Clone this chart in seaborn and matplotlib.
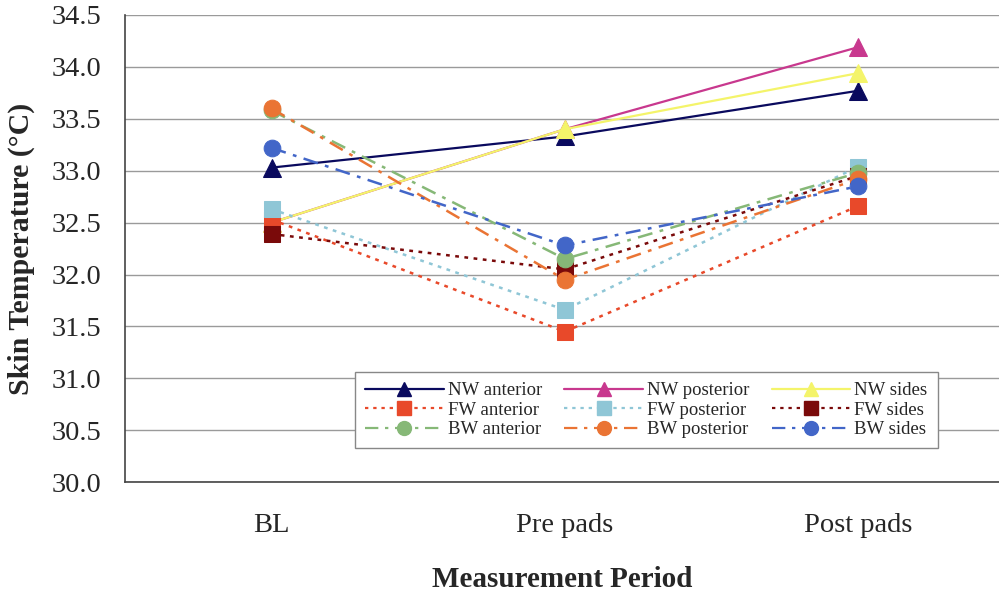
import matplotlib
matplotlib.use("Agg")
import matplotlib.pyplot as plt
import seaborn as sns
import pandas as pd
from matplotlib.lines import Line2D

periods = ["BL", "Pre pads", "Post pads"]
series_names = ["NW anterior", "NW posterior", "NW sides",
                "FW anterior", "FW posterior", "FW sides",
                "BW anterior", "BW posterior", "BW sides"]
nw_anterior = [33.03, 33.33, 33.77]
nw_posterior = [32.50, 33.40, 34.19]
nw_sides = [32.50, 33.40, 33.94]
fw_anterior = [32.53, 31.45, 32.66]
fw_posterior = [32.63, 31.66, 33.04]
fw_sides = [32.39, 32.05, 32.95]
bw_anterior = [33.58, 32.15, 32.98]
bw_posterior = [33.60, 31.95, 32.92]
bw_sides = [33.22, 32.28, 32.85]
values = [nw_anterior, nw_posterior, nw_sides, fw_anterior, fw_posterior,
          fw_sides, bw_anterior, bw_posterior, bw_sides]

colors = ["#0a0a5e", "#c8388e", "#f4f46a", "#e8492a", "#8fc6d6",
          "#7a0a0a", "#86b877", "#ea7434", "#4266c8"]
markers = ["^", "^", "^", "s", "s", "s", "o", "o", "o"]
dot = (1.5, 2.2)
dashdot = (6, 3, 1.5, 3)
styles = ["-", "-", "-", dot, dot, dot, dashdot, dashdot, dashdot]

rows = []
for name, vals in zip(series_names, values):
    for i, v in enumerate(vals):
        rows.append({"series": name, "pos": i, "temp": v})
df = pd.DataFrame(rows)

sns.set_style("white")
plt.rcParams["font.family"] = ["Liberation Serif", "DejaVu Serif"]

fig = plt.figure(figsize=(9.99, 5.99), dpi=100)
ax = fig.add_axes([0.125, 0.195, 0.875, 0.78])

for k, name in enumerate(series_names):
    sub = df[df["series"] == name]
    ls = styles[k]
    kw = {}
    if isinstance(ls, tuple):
        kw["dashes"] = False
    sns.lineplot(data=sub, x="pos", y="temp", ax=ax, color=colors[k],
                 marker=markers[k], markersize=12 if markers[k] != "^" else 13,
                 markeredgecolor=colors[k], linewidth=1.6 if k < 3 else 1.8,
                 legend=False, **kw)
    line = ax.lines[-1]
    if isinstance(ls, tuple):
        line.set_dashes(ls)
    else:
        line.set_linestyle(ls)

ax.set_xlim(-0.5, 2.48)
ax.set_ylim(30.0, 34.5)
ax.set_yticks([30.0 + 0.5 * i for i in range(10)])
ax.set_yticklabels([f"{30.0 + 0.5 * i:.1f}" for i in range(10)], fontsize=20.5)
ax.set_xticks([0, 1, 2])
ax.set_xticklabels(periods, fontsize=20.5)
ax.set_xticks([-0.5, 0.5, 1.5], minor=True)
ax.tick_params(axis="x", which="major", length=0, pad=22)
ax.tick_params(axis="x", which="minor", length=7, direction="out", color="#555555")
ax.tick_params(axis="y", which="major", length=9, direction="out", color="#555555", pad=8)
ax.yaxis.grid(True, color="#9a9a9a", linewidth=1.0)
ax.xaxis.grid(False)
for s in ["top", "right"]:
    ax.spines[s].set_visible(False)
for s in ["left", "bottom"]:
    ax.spines[s].set_color("#444444")
    ax.spines[s].set_linewidth(1.2)

ax.set_xlabel("Measurement Period", fontsize=21, fontweight="bold", labelpad=20)
ax.set_ylabel("Skin Temperature (°C)", fontsize=21.5, fontweight="bold", labelpad=12)

handles = []
for k, name in enumerate(series_names):
    ls = styles[k]
    h = Line2D([0], [0], color=colors[k], marker=markers[k], markersize=10,
               markeredgecolor=colors[k], linewidth=1.6)
    if isinstance(ls, tuple):
        h.set_dashes(ls)
    handles.append(h)
order = [0, 3, 6, 1, 4, 7, 2, 5, 8]
leg = ax.legend([handles[i] for i in order], [series_names[i] for i in order],
                ncol=3, loc="upper left", bbox_to_anchor=(0.263, 0.236),
                borderaxespad=0, fontsize=13.5, frameon=True, fancybox=False,
                handlelength=4.2, handletextpad=0.2, columnspacing=1.2,
                labelspacing=0.12, borderpad=0.55, edgecolor="#888888",
                framealpha=1)
leg.get_frame().set_linewidth(1.0)

fig.savefig("out.png", dpi=100, facecolor="white")
